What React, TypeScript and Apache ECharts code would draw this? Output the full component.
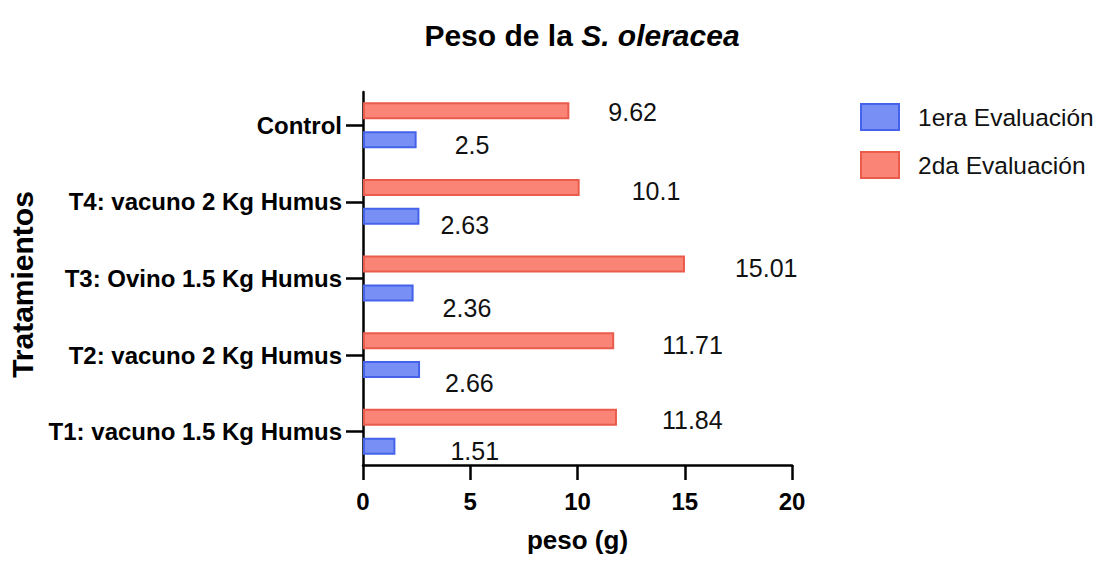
import React, { useEffect, useRef } from "react";
import * as echarts from "echarts";

// Treatments, listed from the bottom of the chart to the top
const categories = [
  "T1: vacuno 1.5 Kg Humus",
  "T2: vacuno 2 Kg Humus",
  "T3: Ovino 1.5 Kg Humus",
  "T4: vacuno 2 Kg Humus",
  "Control",
];

// Weight in grams for each evaluation
const primeraEvaluacion = [1.51, 2.66, 2.36, 2.63, 2.5];
const segundaEvaluacion = [11.84, 11.71, 15.01, 10.1, 9.62];

const xTicks = { min: 0, max: 20, interval: 5 };

// Hand-placed value labels: [dx, dy] from the end of each bar
const primeraLabelShift = [
  [55, 5],
  [25, 13],
  [29, 15],
  [21, 9],
  [38, 5],
];
const segundaLabelShift = [
  [45, 3],
  [48, 4],
  [50, 4],
  [52, 4],
  [39, 1],
];

const FONT = "'Liberation Sans', Arial, Helvetica, sans-serif";
const BLUE_FILL = "#7890f6";
const BLUE_EDGE = "#4463ea";
const RED_FILL = "#fa8576";
const RED_EDGE = "#eb5b4c";

export default function App() {
  const ref = useRef<HTMLDivElement>(null);

  useEffect(() => {
    document.body.style.margin = "0";
    if (!ref.current) return;
    const chart = echarts.init(ref.current, undefined, { renderer: "svg" });

    const labelBase = {
      show: true,
      position: "right",
      distance: 0,
      fontFamily: FONT,
      fontSize: 25,
      color: "#111",
    };

    const makeData = (vals: number[], shifts: number[][]) =>
      vals.map((v, i) => ({
        value: v,
        label: { offset: shifts[i] },
      }));

    chart.setOption({
      animation: false,
      backgroundColor: "#fff",
      title: {
        text: "{b|Peso de la }{i|S. oleracea}",
        left: 577,
        textAlign: "center",
        top: 15,
        textStyle: {
          rich: {
            b: { fontFamily: FONT, fontWeight: "bold", fontSize: 30, color: "#000" },
            i: {
              fontFamily: FONT,
              fontWeight: "bold",
              fontStyle: "italic",
              fontSize: 30,
              color: "#000",
            },
          },
        },
      },
      legend: {
        orient: "vertical",
        left: 855,
        top: 98,
        itemWidth: 38,
        itemHeight: 26,
        itemGap: 20,
        icon: "rect",
        textStyle: {
          fontFamily: FONT,
          fontSize: 24.5,
          color: "#111",
          padding: [0, 0, 0, 14],
        },
        data: [
          {
            name: "1era Evaluación",
            itemStyle: { color: BLUE_FILL, borderColor: BLUE_EDGE, borderWidth: 2 },
          },
          {
            name: "2da Evaluación",
            itemStyle: { color: RED_FILL, borderColor: RED_EDGE, borderWidth: 2 },
          },
        ],
      },
      grid: [
        // grid holding the bars (category bands)
        { left: 363, width: 429, top: 87, height: 383 },
        // grid drawing the visible axis frame
        { left: 363, width: 429, top: 92, height: 373 },
      ],
      xAxis: [
        {
          gridIndex: 0,
          type: "value",
          min: xTicks.min,
          max: xTicks.max,
          interval: xTicks.interval,
          show: false,
        },
        {
          gridIndex: 1,
          type: "value",
          min: xTicks.min,
          max: xTicks.max,
          interval: xTicks.interval,
          name: "peso (g)",
          nameLocation: "middle",
          nameGap: 62,
          nameTextStyle: {
            fontFamily: FONT,
            fontWeight: "bold",
            fontSize: 26,
            color: "#000",
          },
          axisLine: { show: true, onZero: false, lineStyle: { color: "#000", width: 2.5 } },
          axisTick: { show: true, length: 15, lineStyle: { color: "#000", width: 2.5 } },
          axisLabel: {
            margin: 24,
            fontFamily: FONT,
            fontWeight: "bold",
            fontSize: 24,
            color: "#000",
          },
          splitLine: { show: false },
        },
      ],
      yAxis: [
        {
          gridIndex: 0,
          type: "category",
          data: categories,
          axisLine: { show: false },
          axisTick: {
            show: true,
            alignWithLabel: true,
            length: 17,
            lineStyle: { color: "#000", width: 2.5 },
          },
          axisLabel: {
            margin: 21,
            fontFamily: FONT,
            fontWeight: "bold",
            fontSize: 24,
            color: "#000",
          },
        },
        {
          gridIndex: 1,
          type: "value",
          min: 0,
          max: 1,
          name: "Tratamientos",
          nameLocation: "middle",
          nameGap: 326,
          nameTextStyle: {
            fontFamily: FONT,
            fontWeight: "bold",
            fontSize: 30,
            color: "#000",
            padding: [0, 12, 0, 0],
          },
          axisLine: { show: true, onZero: false, lineStyle: { color: "#000", width: 2.5 } },
          axisTick: { show: false },
          axisLabel: { show: false },
          splitLine: { show: false },
        },
      ],
      series: [
        // listed first so its bar sits on the upper side of each band
        {
          name: "2da Evaluación",
          type: "bar",
          xAxisIndex: 0,
          yAxisIndex: 0,
          barWidth: 17,
          barGap: "70%",
          data: makeData(segundaEvaluacion, segundaLabelShift),
          itemStyle: { color: RED_FILL, borderColor: RED_EDGE, borderWidth: 2 },
          label: labelBase,
        },
        {
          name: "1era Evaluación",
          type: "bar",
          xAxisIndex: 0,
          yAxisIndex: 0,
          barWidth: 17,
          barGap: "70%",
          data: makeData(primeraEvaluacion, primeraLabelShift),
          itemStyle: { color: BLUE_FILL, borderColor: BLUE_EDGE, borderWidth: 2 },
          label: labelBase,
        },
      ],
    });

    return () => chart.dispose();
  }, []);

  return <div ref={ref} style={{ width: 1102, height: 561 }} />;
}
